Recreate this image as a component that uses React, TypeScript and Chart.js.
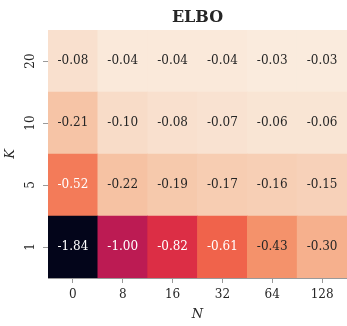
import React, { useEffect, useRef } from 'react';
import { Chart, registerables } from 'chart.js';

Chart.register(...registerables);

// Columns: N values; rows: K values (bottom to top)
const nLabels = ['0', '8', '16', '32', '64', '128'];
const kLabels = ['1', '5', '10', '20'];

const elboK1 = [-1.84, -1.0, -0.82, -0.61, -0.43, -0.3];
const elboK5 = [-0.52, -0.22, -0.19, -0.17, -0.16, -0.15];
const elboK10 = [-0.21, -0.1, -0.08, -0.07, -0.06, -0.06];
const elboK20 = [-0.08, -0.04, -0.04, -0.04, -0.03, -0.03];
const rows = [elboK1, elboK5, elboK10, elboK20];

// approximate "rocket" colormap stops: [t, r, g, b]
const rocketStops: number[][] = [
  [0.0, 3, 5, 26],
  [0.2, 65, 27, 75],
  [0.4, 161, 26, 91],
  [0.5, 203, 27, 79],
  [0.6, 230, 57, 64],
  [0.7, 242, 110, 78],
  [0.8, 245, 155, 115],
  [0.9, 246, 196, 166],
  [1.0, 250, 235, 221],
];

function rocketRGB(t: number): number[] {
  const tt = Math.max(0, Math.min(1, t));
  for (let i = 1; i < rocketStops.length; i++) {
    const a = rocketStops[i - 1];
    const b = rocketStops[i];
    if (tt <= b[0]) {
      const f = (tt - a[0]) / (b[0] - a[0]);
      return [1, 2, 3].map((k) => Math.round(a[k] + (b[k] - a[k]) * f));
    }
  }
  const l = rocketStops[rocketStops.length - 1];
  return [l[1], l[2], l[3]];
}

function luminance(rgb: number[]): number {
  const lin = rgb.map((c) => {
    const s = c / 255;
    return s <= 0.03928 ? s / 12.92 : Math.pow((s + 0.055) / 1.055, 2.4);
  });
  return 0.2126 * lin[0] + 0.7152 * lin[1] + 0.0722 * lin[2];
}

const FONT = 'DejaVu Serif';
const TEXT = '#262626';
const AXIS = '#9a9a9a';

export default function App() {
  const ref = useRef<HTMLCanvasElement>(null);

  useEffect(() => {
    document.body.style.margin = '0';
    const all = rows.flat();
    const vmin = Math.min(...all);
    const vmax = Math.max(...all);
    const rgbOf = (v: number) => rocketRGB((v - vmin) / (vmax - vmin));

    const cellText = {
      id: 'cellText',
      afterDatasetsDraw(chart: any) {
        const ctx = chart.ctx;
        ctx.save();
        ctx.font = `12px "${FONT}"`;
        ctx.textAlign = 'center';
        ctx.textBaseline = 'middle';
        chart.data.datasets.forEach((_ds: any, di: number) => {
          const meta = chart.getDatasetMeta(di);
          meta.data.forEach((el: any, i: number) => {
            const v = rows[di][i];
            const lum = luminance(rgbOf(v));
            ctx.fillStyle = lum > 0.38 ? TEXT : '#ffffff';
            ctx.fillText(v.toFixed(2), el.x, (el.y + el.base) / 2);
          });
        });
        ctx.restore();
      },
    };

    const chart = new Chart(ref.current as HTMLCanvasElement, {
      type: 'bar',
      data: {
        labels: nLabels,
        datasets: rows.map((r, i) => ({
          label: `K=${kLabels[i]}`,
          data: r.map(() => [i, i + 1]),
          backgroundColor: r.map((v) => {
            const c = rgbOf(v);
            return `rgb(${c[0]},${c[1]},${c[2]})`;
          }),
          borderWidth: 0,
          barPercentage: 1,
          categoryPercentage: 1,
          grouped: false,
        })),
      } as any,
      options: {
        animation: false,
        responsive: false,
        layout: { padding: 0 },
        plugins: {
          legend: { display: false },
          tooltip: { enabled: false },
          title: {
            display: true,
            text: 'ELBO',
            fullSize: false,
            color: TEXT,
            font: { family: FONT, size: 16, weight: 'bold' },
            padding: { top: 8.4, bottom: 2.4 },
          },
        },
        scales: {
          x: {
            type: 'category',
            offset: true,
            afterFit: (s: any) => {
              s.height = 48;
            },
            grid: {
              drawOnChartArea: false,
              offset: false,
              tickLength: 5,
              color: AXIS,
            },
            border: { display: true, color: AXIS },
            ticks: {
              color: TEXT,
              padding: 5,
              font: { family: FONT, size: 12 },
              maxRotation: 0,
            },
            title: {
              display: true,
              text: 'N',
              color: TEXT,
              font: { family: FONT, size: 13, style: 'italic' },
              padding: { top: 0, bottom: 4 },
            },
          },
          y: {
            type: 'linear',
            min: 0,
            max: kLabels.length,
            afterBuildTicks: (s: any) => {
              s.ticks = kLabels.map((_, i) => ({ value: i + 0.5 }));
            },
            afterFit: (s: any) => {
              s.width = 48;
            },
            grid: {
              drawOnChartArea: false,
              tickLength: 5,
              color: AXIS,
            },
            border: { display: true, color: AXIS },
            ticks: {
              color: TEXT,
              padding: 4,
              crossAlign: 'center',
              minRotation: 90,
              maxRotation: 90,
              font: { family: FONT, size: 12 },
              callback: (v: any) => kLabels[Math.floor(Number(v))],
            },
            title: {
              display: true,
              text: 'K',
              color: TEXT,
              font: { family: FONT, size: 13, style: 'italic' },
              padding: { top: 3, bottom: 0 },
            },
          },
        },
      } as any,
      plugins: [cellText],
    });
    return () => chart.destroy();
  }, []);

  return <canvas ref={ref} width={347} height={326} style={{ display: 'block' }} />;
}
